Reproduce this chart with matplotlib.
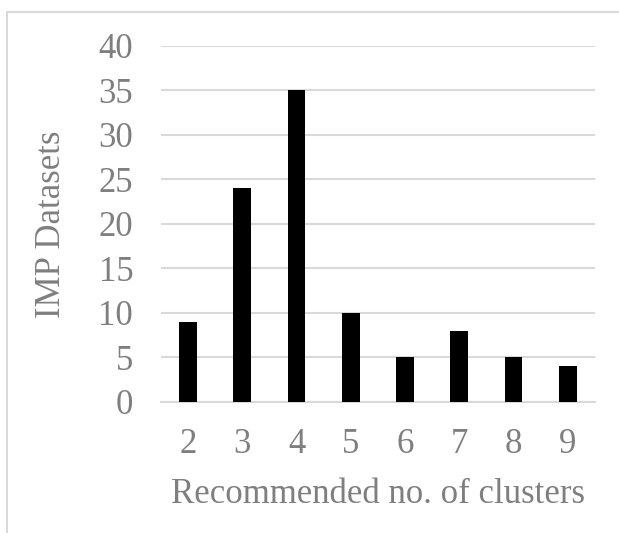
import matplotlib.pyplot as plt
from matplotlib.patches import Rectangle

# data
clusters = ["2", "3", "4", "5", "6", "7", "8", "9"]
datasets = [9, 24, 35, 10, 5, 8, 5, 4]
y_ticks = [0, 5, 10, 15, 20, 25, 30, 35, 40]

plt.rcParams["font.family"] = ["Liberation Serif", "DejaVu Serif"]
text_gray = "#7f7f7f"
grid_gray = "#d9d9d9"

fig = plt.figure(figsize=(6.19, 5.33), dpi=100)
ax = fig.add_axes([0.260, 0.246, 0.701, 0.668])

# light outer frame (top and left edges visible like the source screenshot)
fig.patches.append(Rectangle((7 / 619, -0.1), 1.2, 1 - 12 / 533 + 0.1,
                             transform=fig.transFigure, fill=False,
                             edgecolor=grid_gray, linewidth=1.5))

ax.bar(clusters, datasets, width=0.33, color="black", zorder=3)

ax.set_ylim(0, 40)
ax.set_yticks(y_ticks)
ax.set_xlim(-0.5, len(clusters) - 0.5)
ax.yaxis.grid(True, color=grid_gray, linewidth=1.5, zorder=0)
ax.tick_params(axis="both", length=0, labelsize=25, colors=text_gray)
ax.tick_params(axis="y", pad=20)
ax.tick_params(axis="x", pad=19)

for side in ["top", "right", "left"]:
    ax.spines[side].set_visible(False)
ax.spines["bottom"].set_color(grid_gray)
ax.spines["bottom"].set_linewidth(1.5)

ax.set_xlabel("Recommended no. of clusters", fontsize=25, color=text_gray, labelpad=12)
ax.set_ylabel("IMP Datasets", fontsize=25, color=text_gray, labelpad=22)

plt.savefig("out.png", dpi=100)
